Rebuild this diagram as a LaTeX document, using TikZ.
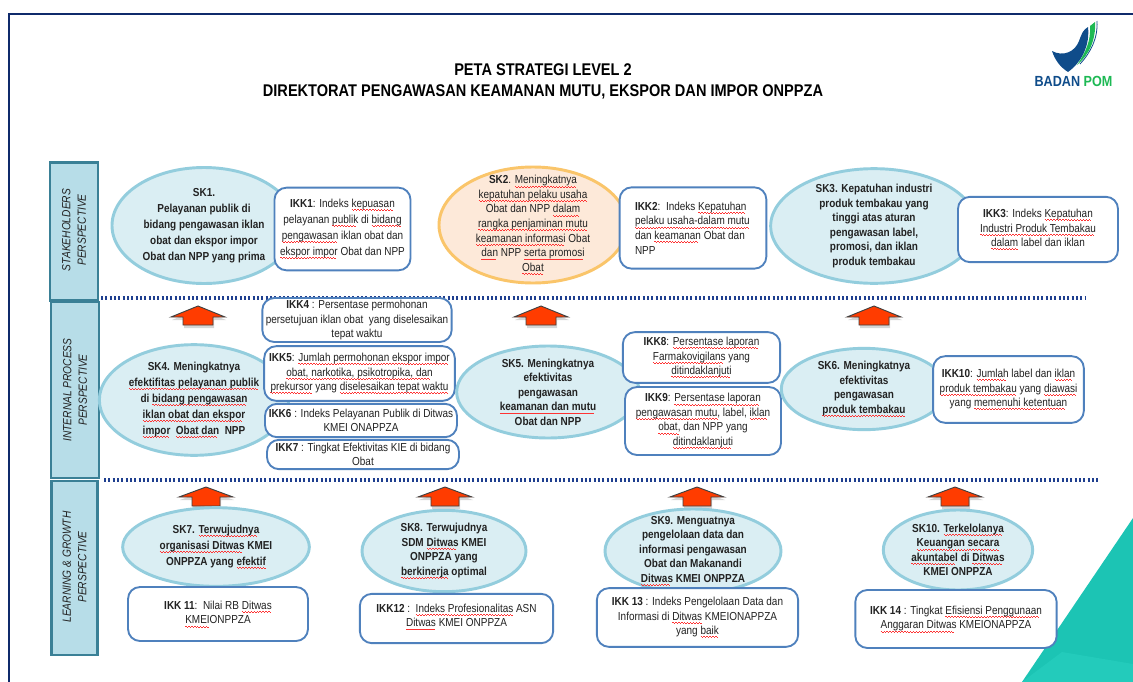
\documentclass[tikz,border=0pt]{standalone}
\usepackage{fontspec}
\setmainfont[FakeStretch=0.86]{Liberation Sans}
\usetikzlibrary{shapes.geometric}
\definecolor{navy}{HTML}{0F2A6B}
\definecolor{panelfill}{HTML}{B7DDE8}
\definecolor{paneledge}{HTML}{3A8096}
\definecolor{skfill}{HTML}{DAEEF3}
\definecolor{skedge}{HTML}{93CDDD}
\definecolor{orfill}{HTML}{FDE9D9}
\definecolor{oredge}{HTML}{FAC56A}
\definecolor{boxedge}{HTML}{4F81BD}
\definecolor{txt}{HTML}{222222}
\definecolor{teal1}{HTML}{1CC4B4}
\definecolor{teal2}{HTML}{23CBBB}
\definecolor{arrowred}{HTML}{FF3C00}
\definecolor{dotline}{HTML}{1F3F8F}
\definecolor{pomgreen}{HTML}{1DB954}
\definecolor{pomblue}{HTML}{0F4C8A}
\newcommand\sq[1]{\setbox0=\hbox{#1}\leavevmode\rlap{\textcolor{red!80}{\lower 1.9pt\hbox to \wd0{\leaders\hbox{\vrule width 1.1pt height .45pt depth 0pt\vrule width 1.1pt height -.2pt depth .65pt}\hfill}}}\box0 }
\tikzset{
  x=0.75pt,y=-0.75pt,
  body/.style={font=\fontsize{8.7}{10.9}\selectfont,text=txt,align=center},
  wide/.style={font=\fontsize{8.7}{12}\selectfont},
  sk/.style={ellipse,draw=skedge,fill=skfill,line width=2.2pt,inner sep=-30pt,body},
  skor/.style={sk,draw=oredge,fill=orfill},
  ikkbox/.style={rectangle,rounded corners=9pt,draw=boxedge,fill=white,line width=1.4pt,inner sep=0pt,body},
  panel/.style={rectangle,draw=paneledge,fill=panelfill,line width=2.2pt,inner sep=0pt},
  paneltext/.style={font=\fontsize{8.9}{11.6}\selectfont\itshape,text=txt,align=center,rotate=90,inner sep=0pt},
  dotrule/.style={draw=dotline,line width=2.3pt,dash pattern=on 1.4pt off 1.85pt},
  blockarrow/.style={draw=black!75,fill=arrowred,line width=0.7pt},
  arrowshadow/.style={fill=black!35,opacity=0.45,draw=none},
}
% block arrow: centre x, apex y, half head, half shaft, shoulder y, bottom y
\newcommand\uparrowblock[6]{%
  \fill[arrowshadow] (#1,#2+3) -- (#1+#3+1,#5+3) -- (#1+#4+1,#5+3) -- (#1+#4+1,#6+3) -- (#1-#4+1,#6+3) -- (#1-#4+1,#5+3) -- (#1-#3+1,#5+3) -- cycle;
  \draw[blockarrow] (#1,#2) -- (#1+#3,#5) -- (#1+#4,#5) -- (#1+#4,#6) -- (#1-#4,#6) -- (#1-#4,#5) -- (#1-#3,#5) -- cycle;
}
\begin{document}
\begin{tikzpicture}
\useasboundingbox (0,0) rectangle (1133,682);
\fill[white] (0,0) rectangle (1133,682);
% teal corner
\fill[teal1] (1133,518) -- (1022,682) -- (1133,682) -- cycle;
\fill[teal2] (1133,664) -- (1062,652) -- (1022,682) -- (1133,682) -- cycle;
% frame
\draw[navy,line width=2pt] (9,682) -- (9,14) -- (1133,14);
% title
\node[font=\fontsize{12.7}{15.75}\selectfont\bfseries,text=black,align=center,inner sep=0pt] (title) at (543,81.5) {PETA STRATEGI LEVEL 2\\DIREKTORAT PENGAWASAN KEAMANAN MUTU, EKSPOR DAN IMPOR ONPPZA};
% logo
\fill[pomblue] (1052,51) .. controls (1063,57) and (1075,52) .. (1079,41) .. controls (1082,33) and (1083,30) .. (1088,27) .. controls (1090,45) and (1082,62) .. (1068,72) .. controls (1060,67) and (1055,60) .. (1052,51) -- cycle;
\fill[pomgreen] (1090,26) -- (1095,22) .. controls (1096,40) and (1089,55) .. (1077,65) .. controls (1086,52) and (1091,40) .. (1090,26) -- cycle;
\draw[pomblue,line width=0.6pt] (1097,21) .. controls (1098,38) and (1091,52) .. (1080,64);
\node[font=\fontsize{11}{12}\selectfont\bfseries,inner sep=0pt] (logotext) at (1073.5,81) {\textcolor{pomblue}{BADAN} \textcolor{pomgreen}{POM}};
% panels
\node[panel,minimum width=36pt,minimum height=104pt] (p1) at (74,231.5) {};
\node[panel,minimum width=36pt,minimum height=132pt] (p2) at (75,390) {};
\node[panel,minimum width=35pt,minimum height=130.5pt] (p3) at (74.5,568) {};
\node[paneltext] (p1t) at (74,230) {STAKEHOLDERS\\PERSPECTIVE};
\node[paneltext] (p2t) at (75,390) {INTERNAL PROCESS\\PERSPECTIVE};
\node[paneltext] (p3t) at (74.5,567) {LEARNING \& GROWTH\\PERSPECTIVE};
% dotted rules
\coordinate (r1a) at (101,298); \coordinate (r1b) at (1085,298);
\coordinate (r2a) at (104,480); \coordinate (r2b) at (1100,480);
\draw[dotrule] (r1a) -- (r1b);
\draw[dotrule] (r2a) -- (r2b);
% arrows
\uparrowblock{198}{306}{27}{15}{317}{325}
\uparrowblock{541}{306}{27}{15}{317}{325}
\uparrowblock{874}{306}{27}{15}{317}{325}
\uparrowblock{206}{487}{27}{14}{497}{506}
\uparrowblock{445}{487}{27}{14}{497}{506}
\uparrowblock{697}{487}{27}{14}{497}{506}
\uparrowblock{955}{487}{27}{14}{497}{506}
% row 1
\node[sk,wide,minimum width=138pt,minimum height=87pt] (sk1) at (204,225.5) {\textbf{SK1.}\\\textbf{Pelayanan publik di}\\\textbf{bidang pengawasan iklan}\\\textbf{obat dan ekspor impor}\\\textbf{Obat dan NPP yang prima}};
\node[ikkbox,wide,minimum width=102pt,minimum height=62pt] (ikk1) at (342.5,229) {\textbf{IKK1}: Indeks \sq{kepuasan}\\pelayanan \sq{publik} di \sq{bidang}\\\sq{pengawasan} iklan obat dan\\\sq{ekspor impor} Obat dan NPP};
\node[skor,minimum width=141pt,minimum height=87pt] (sk2) at (533,225) {\textbf{SK2}. \sq{Meningkatnya}\\\sq{kepatuhan pelaku usaha}\\Obat dan NPP \sq{dalam}\\\sq{rangka penjaminan mutu}\\\sq{keamanan informasi} Obat\\\sq{dan} NPP \sq{serta promosi}\\\sq{Obat}};
\node[ikkbox,minimum width=110pt,minimum height=61pt] (ikk2) at (693,228) {\parbox{87pt}{\raggedright\textbf{IKK2}:\ \ Indeks \sq{Kepatuhan}\\\sq{pelaku usaha-dalam mutu}\\dan \sq{keamanan} Obat dan\\NPP}};
\node[sk,minimum width=155pt,minimum height=86pt] (sk3) at (874,226) {\textbf{SK3. Kepatuhan industri}\\\textbf{produk tembakau yang}\\\textbf{tinggi atas aturan}\\\textbf{pengawasan label,}\\\textbf{promosi, dan iklan}\\\textbf{produk tembakau}};
\node[ikkbox,minimum width=120pt,minimum height=49pt] (ikk3) at (1038,229.5) {\textbf{IKK3}: Indeks \sq{Kepatuhan}\\\sq{Industri Produk Tembakau}\\\sq{dalam} label dan iklan};
% row 2
\node[sk,wide,minimum width=142pt,minimum height=83pt] (sk4) at (194,400) {\textbf{SK4. Meningkatnya}\\\textbf{\sq{efektifitas pelayanan publik}}\\\textbf{di \sq{bidang pengawasan}}\\\textbf{\sq{iklan obat dan ekspor}}\\\textbf{\sq{impor}\ \ \sq{Obat dan}\ \ NPP}};
\node[ikkbox,minimum width=142pt,minimum height=33pt] (ikk4) at (357,320) {\textbf{IKK4} : Persentase permohonan\\persetujuan iklan obat\ \ yang diselesaikan\\tepat waktu};
\node[ikkbox,minimum width=143pt,minimum height=41pt] (ikk5) at (359.5,373.5) {\textbf{IKK5}: \sq{Jumlah permohonan ekspor impor}\\\sq{obat, narkotika, psikotropika, dan}\\\sq{prekursor} yang \sq{diselesaikan tepat waktu}};
\node[ikkbox,minimum width=144pt,minimum height=25pt] (ikk6) at (361,420.5) {\textbf{IKK6} : Indeks Pelayanan Publik di Ditwas\\KMEI ONAPPZA};
\node[ikkbox,minimum width=144pt,minimum height=22pt] (ikk7) at (363,454.5) {\textbf{IKK7} : Tingkat Efektivitas KIE di bidang\\Obat};
\node[sk,minimum width=137pt,minimum height=69pt] (sk5) at (548,392) {\textbf{SK5. Meningkatnya}\\\textbf{efektivitas}\\\textbf{pengawasan}\\\textbf{\sq{keamanan dan mutu}}\\\textbf{Obat dan NPP}};
\node[ikkbox,minimum width=118pt,minimum height=38pt] (ikk8) at (701.5,357.5) {\textbf{IKK8}: \sq{Persentase laporan}\\\sq{Farmakovigilans} yang\\\sq{ditindaklanjuti}};
\node[ikkbox,minimum width=117pt,minimum height=51pt] (ikk9) at (703,421) {\textbf{IKK9}: \sq{Persentase laporan}\\\sq{pengawasan mutu,} label, \sq{iklan}\\\sq{obat,} dan NPP yang\\\sq{ditindaklanjuti}};
\node[sk,minimum width=124pt,minimum height=61pt] (sk6) at (864,389) {\textbf{SK6. Meningkatnya}\\\textbf{efektivitas}\\\textbf{pengawasan}\\\textbf{\sq{produk tembakau}}};
\node[ikkbox,minimum width=113pt,minimum height=50pt] (ikk10) at (1008.5,389.5) {\textbf{IKK10}: \sq{Jumlah} label dan \sq{iklan}\\\sq{produk tembakau} yang \sq{diawasi}\\yang \sq{memenuhi ketentuan}};
% row 3
\node[sk,wide,minimum width=140pt,minimum height=59pt] (sk7) at (216,547) {\textbf{SK7. \sq{Terwujudnya}}\\\textbf{\sq{organisasi Ditwas} KMEI}\\\textbf{ONPPZA yang \sq{efektif}}};
\node[ikkbox,minimum width=135pt,minimum height=40.5pt] (ikk11) at (218,614) {\textbf{IKK 11}:\ \ Nilai RB \sq{Ditwas}\\\sq{KMEI}ONPPZA};
\node[sk,minimum width=123pt,minimum height=61pt] (sk8) at (444,551) {\textbf{SK8. Terwujudnya}\\\textbf{SDM \sq{Ditwas} KMEI}\\\textbf{ONPPZA yang}\\\textbf{\sq{berkinerja} optimal}};
\node[ikkbox,minimum width=145pt,minimum height=37pt] (ikk12) at (456.5,618.5) {\raisebox{10pt}{\parbox{140pt}{\centering\textbf{IKK12} :\ \ \sq{Indeks Profesionalitas} ASN\\\sq{Ditwas} KMEI ONPPZA}}};
\node[sk,minimum width=132pt,minimum height=63pt] (sk9) at (693,551) {\textbf{SK9. Menguatnya}\\\textbf{pengelolaan data dan}\\\textbf{informasi pengawasan}\\\textbf{Obat dan Makanandi}\\\textbf{\sq{Ditwas} KMEI ONPPZA}};
\node[ikkbox,minimum width=151pt,minimum height=44pt] (ikk13) at (697.5,617.5) {\textbf{IKK 13} : Indeks Pengelolaan Data dan\\Informasi di \sq{Ditwas} KMEIONAPPZA\\yang \sq{baik}};
\node[sk,minimum width=112pt,minimum height=60pt] (sk10) at (958,550) {\textbf{SK10. \sq{Terkelolanya}}\\\textbf{\sq{Keuangan secara}}\\\textbf{\sq{akuntabel} di \sq{Ditwas}}\\\textbf{KMEI ONPPZA}};
\node[ikkbox,minimum width=151pt,minimum height=43.5pt] (ikk14) at (956,619) {\textbf{IKK 14} : Tingkat \sq{Efisiensi Penggunaan}\\\sq{Anggaran Ditwas} KMEIONAPPZA};
\end{tikzpicture}
\end{document}
